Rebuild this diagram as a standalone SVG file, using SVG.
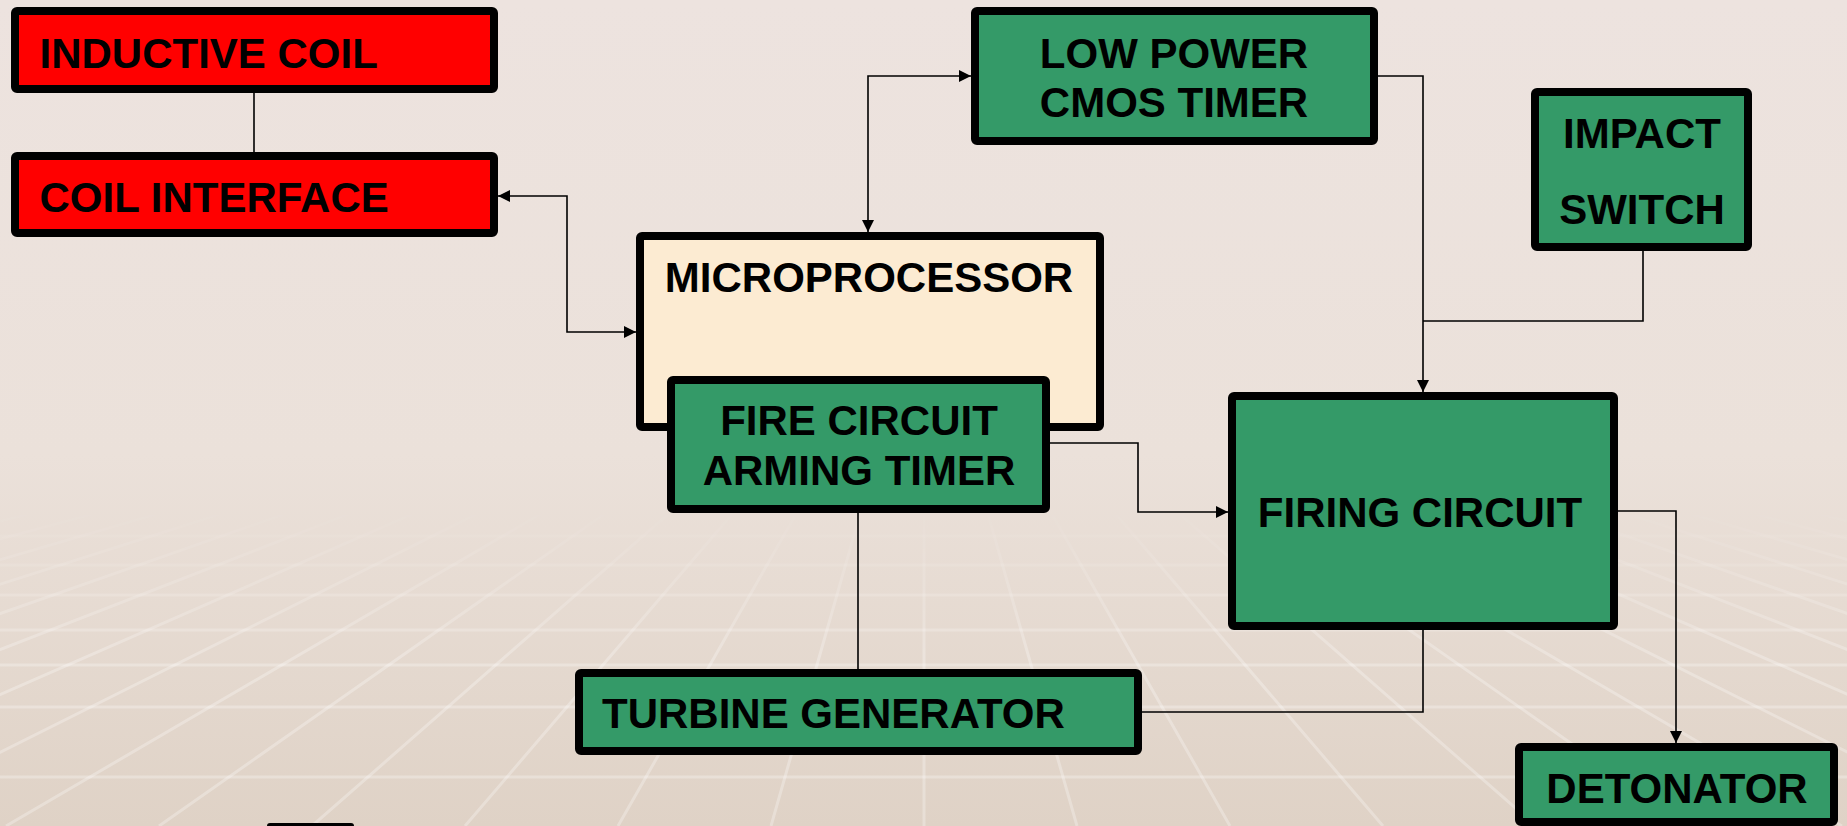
<svg xmlns="http://www.w3.org/2000/svg" width="1847" height="826" viewBox="0 0 1847 826">
<style>
.box{stroke:#000;stroke-width:8;stroke-linejoin:round}
.red{fill:#FF0000}
.green{fill:#349A68}
.cream{fill:#FCEBD2}
.lbl{font-family:"Liberation Sans",Arial,sans-serif;font-weight:bold;font-size:42px;fill:#000}
.mid{text-anchor:middle}
.wire{fill:none;stroke:#000;stroke-width:1.6}
.grid{fill:none;stroke:#FFFFFF;stroke-width:3;stroke-opacity:0.28}
</style>
<defs>
<linearGradient id="bg" x1="0" y1="0" x2="0" y2="1">
<stop offset="0" stop-color="#EDE3DF"/>
<stop offset="0.55" stop-color="#EBE1DA"/>
<stop offset="1" stop-color="#DFD2C6"/>
</linearGradient>
<linearGradient id="fade" gradientUnits="userSpaceOnUse" x1="0" y1="500" x2="0" y2="660">
<stop offset="0" stop-color="#fff" stop-opacity="0"/>
<stop offset="1" stop-color="#fff" stop-opacity="1"/>
</linearGradient>
<mask id="gm" maskUnits="userSpaceOnUse" x="0" y="0" width="1847" height="826">
<rect x="0" y="0" width="1847" height="826" fill="url(#fade)"/>
</mask>
<marker id="ah" viewBox="0 0 12 12" refX="12" refY="6" markerWidth="12" markerHeight="12" markerUnits="userSpaceOnUse" orient="auto-start-reverse">
<path d="M0,0 L12,6 L0,12 Z" fill="#000"/>
</marker>
</defs>
<rect x="0" y="0" width="1847" height="826" fill="url(#bg)"/>
<g id="background-grid" mask="url(#gm)">
<path class="grid" d="M924,290 L-1218,826 M924,290 L-1065,826 M924,290 L-912,826 M924,290 L-759,826 M924,290 L-606,826 M924,290 L-453,826 M924,290 L-300,826 M924,290 L-147,826 M924,290 L6,826 M924,290 L159,826 M924,290 L312,826 M924,290 L465,826 M924,290 L618,826 M924,290 L771,826 M924,290 L924,826 M924,290 L1077,826 M924,290 L1230,826 M924,290 L1383,826 M924,290 L1536,826 M924,290 L1689,826 M924,290 L1842,826 M924,290 L1995,826 M924,290 L2148,826 M924,290 L2301,826 M924,290 L2454,826 M924,290 L2607,826 M924,290 L2760,826 M924,290 L2913,826 M924,290 L3066,826"/>
<path class="grid" d="M0,536 H1847 M0,565 H1847 M0,595 H1847 M0,630 H1847 M0,665 H1847 M0,707 H1847 M0,777 H1847"/>
</g>
<g id="connectors">
<path class="wire" d="M254,93 V152"/>
<path class="wire" d="M498,196 H567 V332 H636" marker-start="url(#ah)" marker-end="url(#ah)"/>
<path class="wire" d="M868,232 V76 H971" marker-start="url(#ah)" marker-end="url(#ah)"/>
<path class="wire" d="M1378,76 H1423 V392" marker-end="url(#ah)"/>
<path class="wire" d="M1643,251 V321 H1423"/>
<path class="wire" d="M1050,443 H1138 V512 H1228" marker-end="url(#ah)"/>
<path class="wire" d="M858,513 V669"/>
<path class="wire" d="M1423,630 V712 H1142"/>
<path class="wire" d="M1618,511 H1676 V743" marker-end="url(#ah)"/>
</g>
<g id="inductive-coil">
<rect class="box red" x="15" y="11" width="479" height="78" rx="2"/>
<text class="lbl" x="39.5" y="68">INDUCTIVE COIL</text>
</g>
<g id="coil-interface">
<rect class="box red" x="15" y="156" width="479" height="77" rx="2"/>
<text class="lbl" x="39.5" y="212">COIL INTERFACE</text>
</g>
<g id="low-power-cmos-timer">
<rect class="box green" x="975" y="11" width="399" height="130" rx="2"/>
<text class="lbl mid" x="1174" y="68">LOW POWER</text>
<text class="lbl mid" x="1174" y="117">CMOS TIMER</text>
</g>
<g id="impact-switch">
<rect class="box green" x="1535" y="92" width="213" height="155" rx="2"/>
<text class="lbl mid" x="1642" y="148">IMPACT</text>
<text class="lbl mid" x="1642" y="224">SWITCH</text>
</g>
<g id="microprocessor">
<rect class="box cream" x="640" y="236" width="460" height="191" rx="2"/>
<text class="lbl mid" x="869" y="292">MICROPROCESSOR</text>
</g>
<g id="fire-circuit-arming-timer">
<rect class="box green" x="671" y="380" width="375" height="129" rx="2"/>
<text class="lbl mid" x="859" y="435">FIRE CIRCUIT</text>
<text class="lbl mid" x="859" y="485">ARMING TIMER</text>
</g>
<g id="firing-circuit">
<rect class="box green" x="1232" y="396" width="382" height="230" rx="2"/>
<text class="lbl mid" x="1420" y="527">FIRING CIRCUIT</text>
</g>
<g id="turbine-generator">
<rect class="box green" x="579" y="673" width="559" height="78" rx="2"/>
<text class="lbl" x="602" y="728">TURBINE GENERATOR</text>
</g>
<g id="detonator">
<rect class="box green" x="1519" y="747" width="315" height="75" rx="2"/>
<text class="lbl mid" x="1677" y="803">DETONATOR</text>
</g>
<g id="offscreen-box">
<rect x="267" y="823" width="87" height="10" rx="3" fill="#000"/>
</g>
</svg>
